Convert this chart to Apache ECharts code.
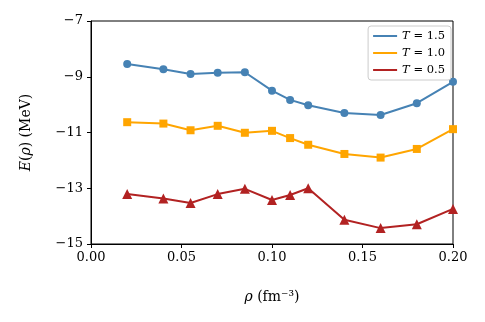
<!DOCTYPE html>
<html>
<head>
<meta charset="utf-8">
<script src="https://cdn.jsdelivr.net/npm/echarts@6/dist/echarts.min.js"></script>
<style>
  html, body { margin: 0; padding: 0; background: #fff; }
  #chart { width: 485px; height: 322px; }
</style>
</head>
<body>
<div id="chart"></div>
<script>
// density values (fm^-3)
const rho = [0.02, 0.04, 0.055, 0.07, 0.085, 0.10, 0.11, 0.12, 0.14, 0.16, 0.18, 0.20]
// energy per particle (MeV) at each temperature
const eT15 = [-8.54, -8.73, -8.90, -8.86, -8.84, -9.50, -9.83, -10.02, -10.30, -10.37, -9.95, -9.18]
const eT10 = [-10.63, -10.68, -10.92, -10.76, -11.01, -10.94, -11.20, -11.44, -11.77, -11.90, -11.59, -10.88]
const eT05 = [-13.21, -13.37, -13.53, -13.21, -13.02, -13.42, -13.24, -13.00, -14.13, -14.43, -14.29, -13.74]
const seriesNames = ['T = 1.5', 'T = 1.0', 'T = 0.5']
const colors = ['#4682b4', '#ffa500', '#b22222']
const symbols = ['circle', 'rect', 'triangle']
const symbolSizes = [8, 8, 10]

const serif = 'DejaVu Serif'
const minus = v => String(v).replace('-', '\u2212')

function pairs(ys) {
  return rho.map((x, i) => [x, ys[i]])
}

const seriesData = [eT15, eT10, eT05]

const option = {
  animation: false,
  backgroundColor: '#fff',
  textStyle: { fontFamily: serif, color: '#000' },
  grid: {
    left: 91, right: 32, top: 21, bottom: 78,
    show: true, borderColor: '#000', borderWidth: 1, backgroundColor: 'transparent'
  },
  legend: {
    orient: 'vertical',
    right: 34, top: 26,
    icon: 'rect',
    itemWidth: 24, itemHeight: 2,
    itemGap: 5,
    padding: [4, 6, 4, 5],
    borderColor: '#ccc', borderWidth: 1, borderRadius: 3,
    backgroundColor: '#fff',
    data: seriesNames,
    formatter: name => '{i|T}' + name.slice(1),
    textStyle: {
      fontFamily: serif, fontSize: 11.5, color: '#000',
      rich: { i: { fontFamily: serif, fontStyle: 'italic', fontSize: 11.5 } }
    }
  },
  xAxis: {
    type: 'value',
    min: 0, max: 0.2, interval: 0.05,
    name: '{i|ρ} (fm⁻³)',
    nameLocation: 'middle',
    nameGap: 46,
    nameTextStyle: {
      fontFamily: serif, fontSize: 14, color: '#000',
      rich: { i: { fontFamily: serif, fontStyle: 'italic', fontSize: 14 } }
    },
    axisLine: { show: true, lineStyle: { color: '#000', width: 1 } },
    axisTick: { show: true, length: 4, lineStyle: { color: '#000' } },
    axisLabel: { margin: 7, fontSize: 13, color: '#000', fontFamily: serif, formatter: v => v.toFixed(2) },
    splitLine: { show: false }
  },
  yAxis: {
    type: 'value',
    min: -15, max: -7, interval: 2,
    name: '{i|E}({i|ρ}) (MeV)',
    nameLocation: 'middle',
    nameGap: 58,
    nameTextStyle: {
      fontFamily: serif, fontSize: 14, color: '#000',
      rich: { i: { fontFamily: serif, fontStyle: 'italic', fontSize: 14 } }
    },
    axisLine: { show: true, lineStyle: { color: '#000', width: 1 } },
    axisTick: { show: true, length: 4, lineStyle: { color: '#000' } },
    axisLabel: { margin: 8, fontSize: 13, color: '#000', fontFamily: serif, formatter: v => minus(v) },
    splitLine: { show: false }
  },
  series: seriesNames.map((name, k) => ({
    name: name,
    type: 'line',
    data: pairs(seriesData[k]),
    color: colors[k],
    symbol: symbols[k],
    symbolSize: symbolSizes[k],
    showAllSymbol: true,
    lineStyle: { width: 2, color: colors[k] },
    itemStyle: { color: colors[k] }
  }))
}

const myChart = echarts.init(document.getElementById('chart'))
myChart.setOption(option)
</script>
</body>
</html>
